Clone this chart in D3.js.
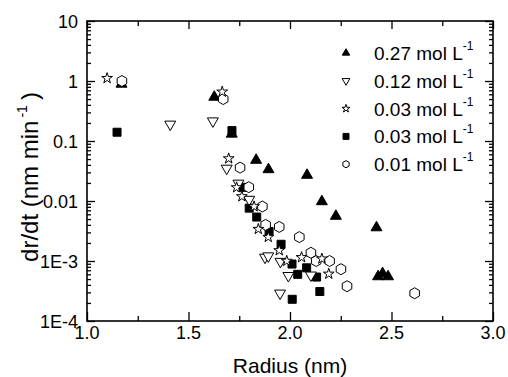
<!DOCTYPE html>
<html>
<head>
<meta charset="utf-8">
<script src="https://cdn.jsdelivr.net/npm/d3@7"></script>
<style>
  body { margin: 0; background: #fff; }
  svg { font-family: "Liberation Sans", Arial, sans-serif; }
</style>
</head>
<body>
<div id="chart"></div>
<script>
// radius (nm) and growth rate dr/dt (nm/min)
const r027 = [1.17, 1.627, 1.713, 1.833, 1.894, 2.084, 2.157, 2.226, 2.426, 2.434, 2.456, 2.483];
const v027 = [0.89, 0.54, 0.131, 0.048, 0.0335, 0.027, 0.0098, 0.0056, 0.0036, 5.5e-4, 6.2e-4, 5.5e-4];

const r012 = [1.41, 1.62, 1.688, 1.746, 1.799, 1.877, 1.893, 1.953, 1.992, 2.103, 1.951];
const v012 = [0.19, 0.215, 0.035, 0.0197, 0.0106, 1.15e-3, 1.21e-3, 9.8e-4, 5.7e-4, 5.8e-4, 2.9e-4];

const r003a = [1.099, 1.666, 1.698, 1.737, 1.763, 1.823, 1.844, 1.893, 1.947, 1.984, 2.057, 2.157, 2.191];
const v003a = [1.11, 0.66, 0.051, 0.0168, 0.0119, 0.0081, 0.0034, 0.0025, 0.0015, 1.0e-3, 1.15e-3, 1.09e-3, 6.1e-4];

const r003b = [1.148, 1.714, 1.763, 1.799, 1.836, 1.897, 1.956, 2.010, 2.038, 2.082, 2.131, 2.147, 2.011];
const v003b = [0.14, 0.149, 0.0169, 0.0076, 0.0054, 0.0031, 0.0019, 8.9e-4, 6.0e-4, 7.7e-4, 5.4e-4, 3.1e-4, 2.3e-4];

const r001 = [1.172, 1.671, 1.754, 1.797, 1.864, 1.88, 1.947, 2.046, 2.103, 2.129, 2.195, 2.251, 2.281, 2.614];
const v001 = [1.0, 0.50, 0.036, 0.017, 0.0081, 0.004, 0.0037, 0.0025, 1.37e-3, 1.0e-3, 1.0e-3, 7.3e-4, 3.8e-4, 2.9e-4];

const seriesNames = ['0.27', '0.12', '0.03', '0.03', '0.01'];

const xTicks = [1.0, 1.5, 2.0, 2.5, 3.0];
const xTickLabels = ['1.0', '1.5', '2.0', '2.5', '3.0'];
const xMinor = [1.25, 1.75, 2.25, 2.75];
const yTicks = [10, 1, 0.1, 0.01, 1e-3, 1e-4];
const yTickLabels = ['10', '1', '0.1', '0.01', '1E-3', '1E-4'];

const width = 508, height = 377;
const margin = { top: 21, right: 15, bottom: 56, left: 87 };
const w = width - margin.left - margin.right;
const h = height - margin.top - margin.bottom;

const svg = d3.select('#chart').append('svg')
  .attr('width', width).attr('height', height);
const g = svg.append('g').attr('transform', `translate(${margin.left},${margin.top})`);

const x = d3.scaleLinear().domain([1, 3]).range([0, w]);
const y = d3.scaleLog().domain([1e-4, 10]).range([h, 0]);

// minor log ticks 2..9 in each decade
const yMinor = [];
[1e-4, 1e-3, 1e-2, 1e-1, 1].forEach(d => d3.range(2, 10).forEach(k => yMinor.push(d * k)));

function tickAxis(axis, vals, size, fmt) {
  return axis.tickValues(vals).tickSizeInner(size).tickSizeOuter(0).tickFormat(fmt || '');
}

const axes = [
  [d3.axisBottom(x), xTicks, -9, `translate(0,${h})`],
  [d3.axisBottom(x), xMinor, -5, `translate(0,${h})`],
  [d3.axisTop(x), xTicks, -8, null],
  [d3.axisTop(x), xMinor, -5, null],
  [d3.axisLeft(y), yTicks, -8, null],
  [d3.axisLeft(y), yMinor, -4, null],
  [d3.axisRight(y), yTicks, -8, `translate(${w},0)`],
  [d3.axisRight(y), yMinor, -4, `translate(${w},0)`]
];
axes.forEach(([ax, vals, size, tr]) => {
  const a = g.append('g').call(tickAxis(ax, vals, size));
  if (tr) a.attr('transform', tr);
  a.select('.domain').remove();
  a.selectAll('text').remove();
  a.selectAll('line').attr('stroke', '#000').attr('stroke-width', 1.3);
});

// tick labels
g.selectAll('.xlab').data(xTicks).enter().append('text')
  .attr('x', d => x(d)).attr('y', h + 18)
  .attr('text-anchor', 'middle').attr('font-size', 18)
  .text((d, i) => xTickLabels[i]);

g.selectAll('.ylab').data(yTicks).enter().append('text')
  .attr('x', -9).attr('y', d => y(d) + 6.5)
  .attr('text-anchor', 'end').attr('font-size', 18)
  .text((d, i) => yTickLabels[i]);

g.append('rect').attr('width', w).attr('height', h)
  .attr('fill', 'none').attr('stroke', '#000').attr('stroke-width', 1.6);

// axis titles
g.append('text').attr('x', w / 2).attr('y', h + 52)
  .attr('text-anchor', 'middle').attr('font-size', 21)
  .text('Radius (nm)');

const yt = svg.append('text')
  .attr('transform', 'translate(38,177) rotate(-90)')
  .attr('text-anchor', 'middle').attr('font-size', 24);
yt.append('tspan').text('dr/dt (nm min');
yt.append('tspan').attr('font-size', 14).attr('dx', 3).attr('dy', -11).text('-1');
yt.append('tspan').attr('dx', 5).attr('dy', 11).text(')');

// markers
const hexPath = r => d3.line()(d3.range(6).map(i => [r * Math.sin(i * Math.PI / 3), -r * Math.cos(i * Math.PI / 3)])) + 'Z';
const markers = [
  { d: d3.symbol(d3.symbolTriangle, 52)(), rot: 0, fill: '#000', small: d3.symbol(d3.symbolTriangle, 24)() },
  { d: d3.symbol(d3.symbolTriangle, 52)(), rot: 180, fill: '#fff', small: d3.symbol(d3.symbolTriangle, 26)() },
  { d: d3.symbol(d3.symbolStar, 36)(), rot: 0, fill: '#fff', small: d3.symbol(d3.symbolStar, 20)() },
  { d: d3.symbol(d3.symbolSquare, 64)(), rot: 0, fill: '#000', small: d3.symbol(d3.symbolSquare, 36)() },
  { d: hexPath(5.5), rot: 0, fill: '#fff', small: hexPath(3.6) }
];

const series = [[r027, v027], [r003b, v003b], [r012, v012], [r001, v001], [r003a, v003a]];
const order = [0, 3, 1, 4, 2];
series.forEach(([rs, vs], k) => {
  const m = markers[order[k]];
  g.append('g').selectAll('path').data(rs).enter().append('path')
    .attr('d', m.d)
    .attr('transform', (d, i) => `translate(${x(d)},${y(vs[i])}) rotate(${m.rot})`)
    .attr('fill', m.fill).attr('stroke', '#000').attr('stroke-width', 1);
});

// legend
const legend = svg.append('g').attr('transform', 'translate(346,53)');
seriesNames.forEach((name, i) => {
  const m = markers[i];
  const row = legend.append('g').attr('transform', `translate(0,${i * 27.8})`);
  row.append('path').attr('d', m.small)
    .attr('transform', `rotate(${m.rot})`)
    .attr('fill', m.fill).attr('stroke', '#000').attr('stroke-width', 1);
  const t = row.append('text').attr('x', 28).attr('y', 7).attr('font-size', 19);
  t.append('tspan').text(name + ' mol L');
  t.append('tspan').attr('font-size', 12).attr('dy', -10).text('-1');
});
</script>
</body>
</html>
